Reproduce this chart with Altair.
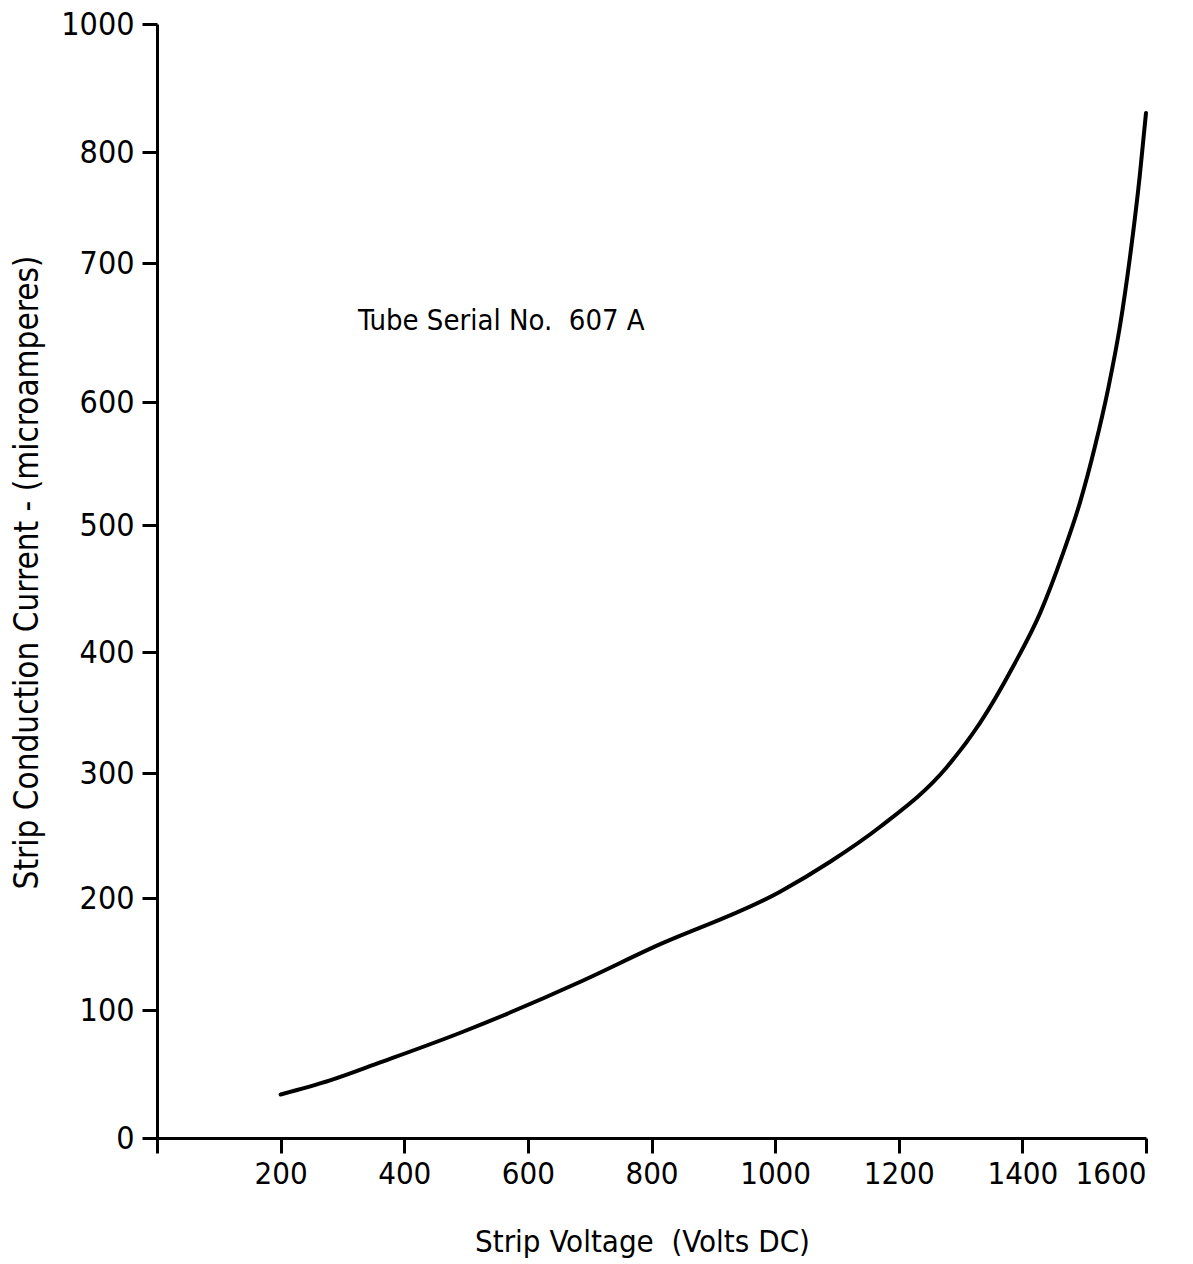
import altair as alt
import pandas as pd

# Curve
voltage = [200, 280, 361, 495, 684, 799, 1008, 1089, 1170, 1278, 1331, 1385, 1429, 1466, 1493, 1517, 1539, 1558, 1574, 1590, 1600]
current = [34, 45, 59, 83, 125, 155, 205, 229, 257, 305, 341, 388, 431, 478, 518, 563, 610, 655, 705, 779, 861]

x_ticks = [0, 200, 400, 600, 800, 1000, 1200, 1400, 1600]
y_ticks = [0, 100, 200, 300, 400, 500, 600, 700, 800, 1000]
# the hand-drawn axis spacing (pixels from the top of the plot) for each tick
y_tick_pos = [1114, 986, 874, 749, 628, 501, 378, 239, 128, 0]

note_text = ["Tube Serial No.\u00a0 607 A"]
note_v = [325]
note_i = [658]

FONT = "Liberation Sans Narrow, DejaVu Sans Condensed, Roboto Condensed, Arial Narrow, sans-serif"
W, H = 989, 1114

df = pd.DataFrame({"v": voltage, "i": current})
notes = pd.DataFrame({"v": note_v, "i": note_i, "t": note_text})

xscale = alt.Scale(domain=[0, 1600], nice=False, zero=False)
yscale = alt.Scale(domain=y_ticks, range=y_tick_pos, nice=False, zero=False)

line = alt.Chart(df).mark_line(color="black", strokeWidth=4, interpolate="monotone",
                               strokeCap="round").encode(
    x=alt.X("v:Q", scale=xscale,
            axis=alt.Axis(title="Strip Voltage\u00a0 (Volts DC)", values=x_ticks,
                          labelExpr="datum.value == 0 ? '' : datum.label",
                          format="d", grid=False, domainColor="black", domainWidth=3,
                          tickColor="black", tickWidth=3, tickSize=15,
                          labelFont=FONT, labelFontSize=31, labelColor="black", labelPadding=6,
                          titleFont=FONT, titleFontSize=31, titleFontWeight="normal",
                          titleColor="black", titlePadding=38, titleX=485, titleAlign="center")),
    y=alt.Y("i:Q", scale=yscale,
            axis=alt.Axis(title="Strip Conduction Current - (microamperes)", values=y_ticks,
                          format="d", grid=False, domainColor="black", domainWidth=3,
                          tickColor="black", tickWidth=3, tickSize=15,
                          labelFont=FONT, labelFontSize=32, labelColor="black", labelPadding=8,
                          titleFont=FONT, titleFontSize=33, titleFontWeight="normal",
                          titleColor="black", titlePadding=16, titleY=548, titleAlign="center")),
)

note = alt.Chart(notes).mark_text(font=FONT, fontSize=29, color="black", align="left",
                                  baseline="middle").encode(
    x=alt.X("v:Q", scale=xscale), y=alt.Y("i:Q", scale=yscale), text="t:N")

chart = (line + note).properties(
    width=W, height=H,
    autosize=alt.AutoSizeParams(type="none"),
    padding={"left": 157, "top": 24, "right": 1193 - 157 - W, "bottom": 1264 - 24 - H},
    background="white",
).configure_view(stroke=None)

chart.save("out.html", embed_options={"renderer": "svg", "actions": False})
